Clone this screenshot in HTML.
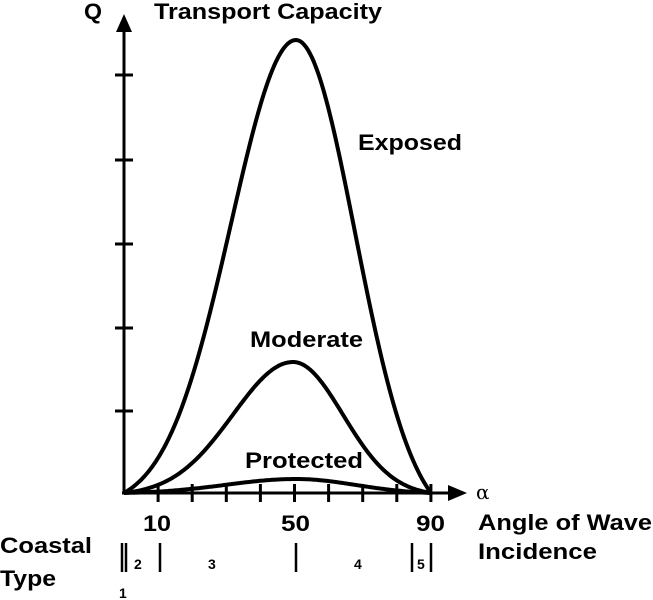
<!DOCTYPE html>
<html><head><style>
body{margin:0;background:#fff;}
svg{display:block;font-family:"Liberation Sans",Arial,sans-serif;font-weight:bold;}
</style></head><body>
<svg id="s" width="653" height="600" viewBox="0 0 653 600">
<g stroke="#000" stroke-width="3" fill="none">
<line x1="124" y1="30" x2="124" y2="494"/>
<line x1="122" y1="493" x2="450" y2="493"/>
<g id="ticks"></g>
</g>
<polygon points="124,14 116,32 132,32" fill="#000"/>
<polygon points="467,493 448,485 448,501" fill="#000"/>
<g id="curves" stroke="#000" stroke-width="4" fill="none" stroke-linejoin="round"></g>
<g stroke="#000" stroke-width="2.5">
<line x1="122" y1="543" x2="122" y2="572"/>
<line x1="126" y1="543" x2="126" y2="572"/>
<line x1="160" y1="543" x2="160" y2="572"/>
<line x1="296" y1="543" x2="296" y2="572"/>
<line x1="412" y1="543" x2="412" y2="572"/>
<line x1="431" y1="543" x2="431" y2="572"/>
</g>
<g font-size="22">
<text x="84" y="19" textLength="18" lengthAdjust="spacingAndGlyphs">Q</text>
<text x="154" y="19" textLength="228" lengthAdjust="spacingAndGlyphs">Transport Capacity</text>
<text x="358" y="150" textLength="104" lengthAdjust="spacingAndGlyphs">Exposed</text>
<text x="250" y="347" textLength="113" lengthAdjust="spacingAndGlyphs">Moderate</text>
<text x="245" y="468" textLength="118" lengthAdjust="spacingAndGlyphs">Protected</text>
<text x="143" y="531" textLength="28" lengthAdjust="spacingAndGlyphs">10</text>
<text x="281" y="531" textLength="29" lengthAdjust="spacingAndGlyphs">50</text>
<text x="416" y="531" textLength="29" lengthAdjust="spacingAndGlyphs">90</text>
<text x="478" y="530" textLength="174" lengthAdjust="spacingAndGlyphs">Angle of Wave</text>
<text x="478" y="559" textLength="119" lengthAdjust="spacingAndGlyphs">Incidence</text>
<text x="0" y="553" textLength="92" lengthAdjust="spacingAndGlyphs">Coastal</text>
<text x="0" y="586" textLength="56" lengthAdjust="spacingAndGlyphs">Type</text>
</g>
<text x="476" y="499" font-size="20" font-weight="normal" font-family="DejaVu Serif,serif">α</text>
<g font-size="14">
<text x="134" y="569">2</text>
<text x="208" y="569">3</text>
<text x="354" y="569">4</text>
<text x="417" y="569">5</text>
<text x="119" y="598">1</text>
</g>
</svg>
<script>
var t=document.getElementById('ticks'),h='';
for(var i=1;i<=9;i++){var x=124+i*34.1;h+='<line x1="'+x+'" y1="484" x2="'+x+'" y2="502"/>';}
[75,160,244,328,411].forEach(function(y){h+='<line x1="115" y1="'+y+'" x2="133" y2="'+y+'"/>';});
t.innerHTML=h;
function curve(A,c,sl,sr){var p=[];
var e0=Math.exp(-Math.pow((c-124)/sl,2)/2),e1=Math.exp(-Math.pow((431-c)/sr,2)/2);
for(var x=124;x<=431;x+=2){var d=x-c;var s=d<0?sl:sr;var g=Math.exp(-d*d/(2*s*s));var b=d<0?e0:e1;var v=Math.max(0,(g-b)/(1-b));p.push(x+','+(493-A*v).toFixed(1));}
return '<polyline points="'+p.join(' ')+'"/>';}
document.getElementById('curves').innerHTML=curve(453,296,65,59)+curve(131,293,60,50)+curve(14,296,70,60);
</script>
</body></html>
